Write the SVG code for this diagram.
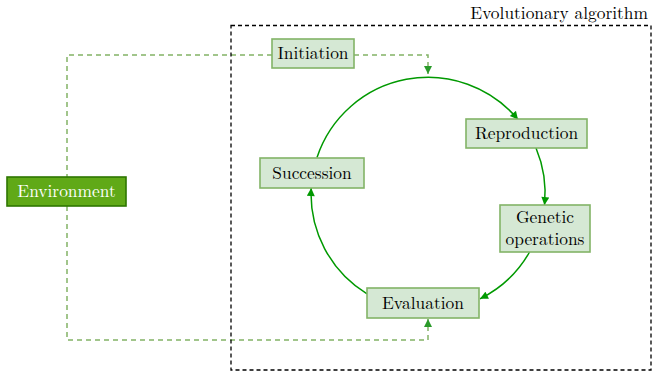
<svg xmlns="http://www.w3.org/2000/svg" width="652" height="374" viewBox="0 0 652 374">
<style>
.t{font-size:17.4px;fill:#000;text-anchor:middle}
.node{fill:#d5e8d4;stroke:#82b366;stroke-width:1.6}
.arc{fill:none;stroke:#009900;stroke-width:1.5}
.dash{fill:none;stroke:#82b366;stroke-width:1.5;stroke-dasharray:5 4}
</style>
<defs>
<marker id="ah" viewBox="0 0 10 10" refX="10" refY="5" markerWidth="9" markerHeight="8" markerUnits="userSpaceOnUse" orient="auto"><path d="M0,0 L10,5 L0,10 Z" fill="#009900"/></marker>
<marker id="ahd" viewBox="0 0 10 10" refX="10" refY="5" markerWidth="9" markerHeight="8" markerUnits="userSpaceOnUse" orient="auto"><path d="M0,0 L10,5 L0,10 Z" fill="#2a9a2a"/></marker>
</defs>
<g id="connectors">
<path class="dash" d="M272,55 H67 V177"/>
<path class="dash" d="M354,55 H428 V74" marker-end="url(#ahd)"/>
<path class="dash" d="M67,206 V340 H428 V319" marker-end="url(#ahd)"/>
<path class="arc" d="M317,157.5 A117,117 0 0 1 518,119.5" marker-end="url(#ah)"/>
<path class="arc" d="M536,148 A117,117 0 0 1 544.5,205" marker-end="url(#ah)"/>
<path class="arc" d="M529.6,252 A117,117 0 0 1 480,298.8" marker-end="url(#ah)"/>
<path class="arc" d="M367,293.8 A117,117 0 0 1 311.2,188" marker-end="url(#ah)"/>
</g>
<g id="frame">
<rect x="231" y="25.5" width="420" height="344.5" fill="none" stroke="#000" stroke-width="1.3" stroke-dasharray="4 3"/>
<text class="t" font-family="Latin Modern Roman, Liberation Serif, serif" x="648" y="19" style="text-anchor:end">Evolutionary algorithm</text>
</g>
<g id="environment">
<rect x="7" y="177" width="119" height="29" fill="#60a917" stroke="#2d7600" stroke-width="1.6"/>
<text class="t" font-family="Latin Modern Roman, Liberation Serif, serif" x="66.5" y="197" style="fill:#fff">Environment</text>
</g>
<g id="initiation">
<rect class="node" x="272" y="39" width="82" height="29"/>
<text class="t" font-family="Latin Modern Roman, Liberation Serif, serif" x="313" y="59">Initiation</text>
</g>
<g id="reproduction">
<rect class="node" x="466" y="119" width="121" height="29"/>
<text class="t" font-family="Latin Modern Roman, Liberation Serif, serif" x="526.5" y="139">Reproduction</text>
</g>
<g id="genetic">
<rect class="node" x="500" y="205" width="90" height="47"/>
<text class="t" font-family="Latin Modern Roman, Liberation Serif, serif" x="545" y="223">Genetic</text>
<text class="t" font-family="Latin Modern Roman, Liberation Serif, serif" x="545" y="245">operations</text>
</g>
<g id="evaluation">
<rect class="node" x="367" y="288" width="112" height="30"/>
<text class="t" font-family="Latin Modern Roman, Liberation Serif, serif" x="423" y="309">Evaluation</text>
</g>
<g id="succession">
<rect class="node" x="260" y="158" width="104" height="30"/>
<text class="t" font-family="Latin Modern Roman, Liberation Serif, serif" x="312" y="179">Succession</text>
</g>
</svg>
